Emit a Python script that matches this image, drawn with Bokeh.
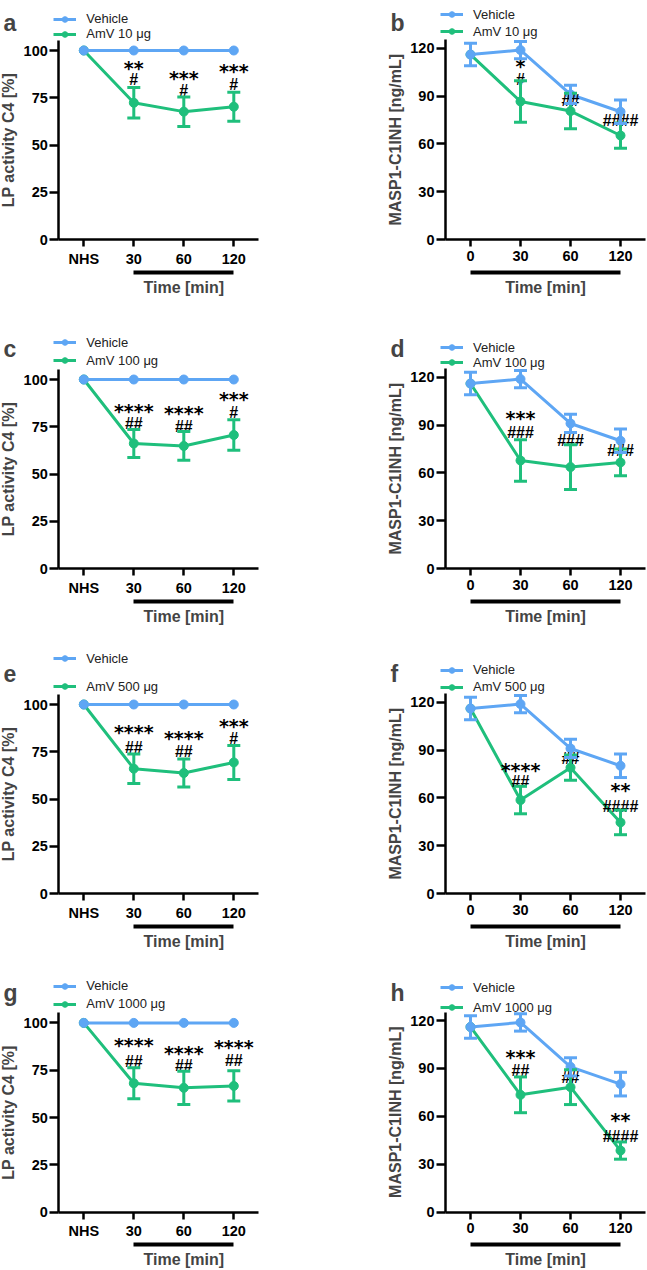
import math
from bokeh.plotting import figure
from bokeh.models import (Range1d, FixedTicker, LinearAxis, Label, Legend, LegendItem,
                          ColumnDataSource, Whisker, TeeHead)
from bokeh.layouts import column, row
from bokeh.embed import file_html
from bokeh.resources import INLINE
from bokeh.core.properties import value

BLUE = "#5EA6F4"
GREEN = "#1FBF7C"
FONT = "Liberation Sans"
STAR_FONT = "DejaVu Sans"

# ---------------- data ----------------
lp_ticks = ["NHS", "30", "60", "120"]
masp_ticks = ["0", "30", "60", "120"]
lp_yticks = [0, 25, 50, 75, 100]
masp_yticks = [0, 30, 60, 90, 120]
doses = ["AmV 10 \u03bcg", "AmV 100 \u03bcg", "AmV 500 \u03bcg", "AmV 1000 \u03bcg"]

lp_vehicle = [100, 100, 100, 100]
lp_vehicle_err = [0, 0, 0, 0]
masp_vehicle = [116.0, 118.8, 91.0, 80.2]
masp_vehicle_err = [7.0, 5.4, 5.7, 7.4]

a_amv = [100, 72.4, 67.7, 70.3]
a_err = [0, 8.0, 7.8, 7.7]
a_stars = ["", "**", "***", "***"]
a_star_y = [None, 92.4, 87.1, 90.6]
a_hash = ["", "#", "#", "#"]
a_hash_y = [None, 86.2, 80.6, 83.6]

b_amv = [116.0, 86.6, 80.6, 65.3]
b_err = [0, 13.0, 11.1, 7.9]
b_stars = ["", "*", "", ""]
b_star_y = [None, 111.0, None, None]
b_hash = ["", "#", "##", "####"]
b_hash_y = [None, 102.2, 89.0, 76.4]

c_amv = [100, 66.2, 64.9, 70.7]
c_err = [0, 7.4, 7.6, 8.1]
c_stars = ["", "****", "****", "***"]
c_star_y = [None, 84.7, 83.7, 91.2]
c_hash = ["", "##", "##", "#"]
c_hash_y = [None, 78.1, 76.7, 84.2]

d_amv = [116.0, 67.8, 63.7, 66.6]
d_err = [0, 13.0, 14.0, 8.4]
d_stars = ["", "***", "", ""]
d_star_y = [None, 96.0, None, None]
d_hash = ["", "###", "###", "###"]
d_hash_y = [None, 87.1, 82.0, 75.8]

e_amv = [100, 66.1, 63.8, 69.4]
e_err = [0, 7.8, 7.4, 9.0]
e_stars = ["", "****", "****", "***"]
e_star_y = [None, 87.1, 83.9, 90.4]
e_hash = ["", "##", "##", "#"]
e_hash_y = [None, 78.7, 76.6, 83.4]

f_amv = [116.0, 58.7, 79.0, 44.7]
f_err = [0, 8.6, 7.9, 7.7]
f_stars = ["", "****", "", "**"]
f_star_y = [None, 79.5, None, 66.6]
f_hash = ["", "##", "##", "####"]
f_hash_y = [None, 72.4, 86.9, 56.8]

g_amv = [100, 68.1, 65.7, 66.7]
g_err = [0, 8.2, 8.8, 8.0]
g_stars = ["", "****", "****", "****"]
g_star_y = [None, 89.8, 85.7, 88.9]
g_hash = ["", "##", "##", "##"]
g_hash_y = [None, 81.0, 79.2, 81.5]

h_amv = [116.0, 73.5, 78.3, 38.6]
h_err = [0, 11.2, 10.9, 5.4]
h_stars = ["", "***", "", "**"]
h_star_y = [None, 99.2, None, 59.5]
h_hash = ["", "##", "##", "####"]
h_hash_y = [None, 90.4, 86.2, 49.5]

# ---------------- layout (pixels) ----------------
ROW_H = [320, 320, 320, 310]
ZERO_Y = [239.3, 248.3, 253.3, 251.7]      # where value 0 sits, from top of row
LETTER_BASE = [22.0, 28.3, 33.3, 32.5]
COL_W = [320, 327]
CAT0_X = [83.3, 150.0]
LETTER_X = [3, 70]
YTITLE_X = [8, 75]
LP_PX = 1.893       # px per unit
MASP_PX = 1.597
UNIT_PX = 50.0      # px per category
UNDERLINE_PX = 32.5
TIME_PX = 47.5


def add_series(p, xs, ys, errs, color):
    keep = [i for i, e in enumerate(errs) if e > 0]
    if keep:
        src = ColumnDataSource(dict(x=[xs[i] for i in keep],
                                    upper=[ys[i] + errs[i] for i in keep],
                                    lower=[ys[i] - errs[i] for i in keep]))
        w = Whisker(base="x", upper="upper", lower="lower", source=src, dimension="height",
                    line_color=color, line_width=3, level="glyph",
                    upper_head=TeeHead(size=13, line_color=color, line_width=3),
                    lower_head=TeeHead(size=13, line_color=color, line_width=3))
        p.add_layout(w)
    ln = p.line(xs, ys, line_color=color, line_width=3)
    sc = p.scatter(xs, ys, size=9, fill_color=color, line_color=color)
    return ln, sc


def add_text(p, xs, texts, ys, font, size, yoff):
    idx = [i for i, t in enumerate(texts) if t]
    if not idx:
        return
    src = ColumnDataSource(dict(x=[xs[i] for i in idx], y=[ys[i] for i in idx],
                                t=[texts[i] for i in idx]))
    p.text(x="x", y="y", text="t", source=src, text_font=value(font),
           text_font_size=value(size), text_font_style="bold", text_align="center",
           text_baseline="alphabetic", y_offset=yoff, text_color="black")


def make_panel(letter, lp, amv, err, stars, star_y, hashes, hash_y, dose, r, col, leg_rows):
    ticks = lp_ticks if lp else masp_ticks
    yt = lp_yticks if lp else masp_yticks
    veh = lp_vehicle if lp else masp_vehicle
    veh_err = lp_vehicle_err if lp else masp_vehicle_err
    ytop = 105.3 if lp else 125.3
    s = LP_PX if lp else MASP_PX
    xs = list(range(len(ticks)))
    H = ROW_H[r]
    z = ZERO_Y[r]
    W = COL_W[col]
    x0 = -CAT0_X[col] / UNIT_PX
    p = figure(width=W, height=H, x_range=Range1d(x0, x0 + W / UNIT_PX),
               y_range=Range1d(-(H - z) / s, z / s), output_backend="svg",
               toolbar_location=None, min_border=0, min_border_left=0, min_border_right=0,
               min_border_top=0, min_border_bottom=0)
    p.outline_line_color = None
    p.grid.visible = False
    p.background_fill_color = "white"
    p.border_fill_color = "white"

    xa = p.xaxis[0]
    ya = p.yaxis[0]
    xa.fixed_location = 0
    xa.bounds = (xs[0] - 0.5, xs[-1] + 0.5)
    ya.fixed_location = xs[0] - 0.5
    ya.bounds = (0, ytop)
    xa.ticker = FixedTicker(ticks=xs)
    xa.major_label_overrides = {i: t for i, t in zip(xs, ticks)}
    ya.ticker = FixedTicker(ticks=yt)
    for ax in (xa, ya):
        ax.axis_line_width = 2.5
        ax.axis_line_color = "black"
        ax.major_tick_line_width = 2.5
        ax.major_tick_line_color = "black"
        ax.major_tick_in = 0
        ax.minor_tick_out = 0
        ax.minor_tick_in = 0
        ax.major_label_text_font = FONT
        ax.major_label_text_font_style = "bold"
        ax.major_label_text_font_size = "14.5px"
        ax.major_label_text_color = "black"
    xa.major_tick_out = 7
    xa.major_label_standoff = 4
    ya.major_tick_out = 9
    ya.major_label_standoff = 2

    b0 = xs[1] if lp else xs[0]
    b1 = xs[-1]
    ul = LinearAxis(fixed_location=-UNDERLINE_PX / s, bounds=(b0, b1),
                    ticker=FixedTicker(ticks=[]), axis_line_width=4,
                    axis_line_color="black", major_tick_out=0, major_tick_in=0,
                    minor_tick_out=0, minor_tick_in=0, major_label_text_font_size="0px")
    p.add_layout(ul, "below")

    gl, gs = add_series(p, xs, amv, err, GREEN)
    vl, vs = add_series(p, xs, veh, veh_err, BLUE)

    add_text(p, xs, hashes, hash_y, FONT, "16px", 3)
    add_text(p, xs, stars, star_y, STAR_FONT, "19px", 3)

    r1, r2 = leg_rows
    leg = Legend(items=[LegendItem(label="Vehicle", renderers=[vl, vs]),
                        LegendItem(label=dose, renderers=[gl, gs])],
                 location=(CAT0_X[col] - UNIT_PX / 2 - 5, H - (r2 + 7)),
                 orientation="vertical",
                 label_text_font=FONT, label_text_font_size="13px",
                 label_text_color="#222222", label_height=14, glyph_height=14,
                 glyph_width=23, label_standoff=10, padding=0, margin=0,
                 spacing=max(0, int(round(r2 - r1 - 14))), border_line_color=None,
                 background_fill_alpha=0)
    p.add_layout(leg)

    p.add_layout(Label(x=LETTER_X[col], y=H - LETTER_BASE[r], x_units="screen",
                       y_units="screen", text=letter, text_font=FONT,
                       text_font_style="bold", text_font_size="23px",
                       text_baseline="alphabetic", text_align="left"))
    ytitle = "LP activity C4 [%]" if lp else "MASP1-C1INH [ng/mL]"
    p.add_layout(Label(x=YTITLE_X[col], y=H - (z - ytop * s / 2), x_units="screen",
                       y_units="screen", text=ytitle, angle=math.pi / 2, text_font=FONT,
                       text_font_style="bold", text_font_size="16px", text_align="center",
                       text_baseline="middle"))
    p.add_layout(Label(x=(b0 + b1) / 2, y=H - (z + TIME_PX), x_units="data",
                       y_units="screen", text="Time [min]", text_font=FONT,
                       text_font_style="bold", text_font_size="16px", text_align="center",
                       text_baseline="middle"))
    return p


pa = make_panel("a", True, a_amv, a_err, a_stars, a_star_y, a_hash, a_hash_y, doses[0], 0, 0, (20, 34))
pb = make_panel("b", False, b_amv, b_err, b_stars, b_star_y, b_hash, b_hash_y, doses[0], 0, 1, (16, 31.7))
pc = make_panel("c", True, c_amv, c_err, c_stars, c_star_y, c_hash, c_hash_y, doses[1], 1, 0, (24, 40.7))
pd = make_panel("d", False, d_amv, d_err, d_stars, d_star_y, d_hash, d_hash_y, doses[1], 1, 1, (28.3, 42.7))
pe = make_panel("e", True, e_amv, e_err, e_stars, e_star_y, e_hash, e_hash_y, doses[2], 2, 0, (20, 46.7))
pf = make_panel("f", False, f_amv, f_err, f_stars, f_star_y, f_hash, f_hash_y, doses[2], 2, 1, (31.7, 47.3))
pg = make_panel("g", True, g_amv, g_err, g_stars, g_star_y, g_hash, g_hash_y, doses[3], 3, 0, (26.7, 44))
ph = make_panel("h", False, h_amv, h_err, h_stars, h_star_y, h_hash, h_hash_y, doses[3], 3, 1, (29, 47.7))

layout = column(row(pa, pb), row(pc, pd), row(pe, pf), row(pg, ph))
open("out.html", "w").write(file_html(layout, INLINE))
